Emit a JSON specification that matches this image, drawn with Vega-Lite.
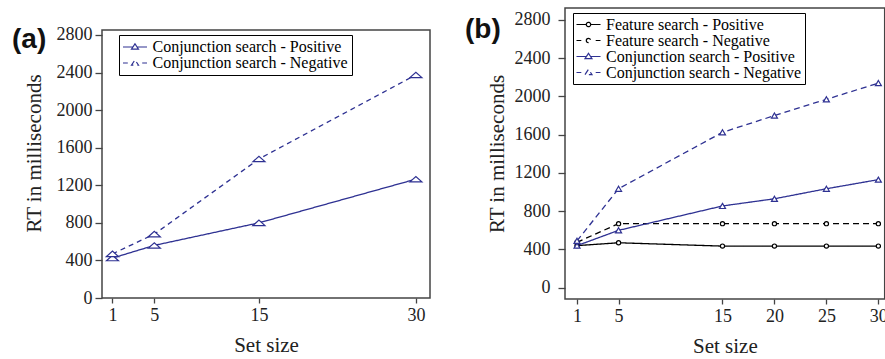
{
  "$schema": "https://vega.github.io/schema/vega-lite/v6.json",
  "padding": {"left": 12, "top": 7, "right": 0, "bottom": 0},
  "spacing": 34,
  "resolve": {"scale": {"color": "independent", "strokeDash": "independent", "shape": "independent"}, "legend": {"color": "independent"}},
  "config": {
    "view": {"stroke": null},
    "font": "Liberation Serif",
    "numberFormat": "d",
    "axis": {"grid": false, "domain": false, "tickColor": "#444", "tickWidth": 1.3, "labelFont": "Liberation Serif", "labelFontSize": 18, "labelColor": "#222", "labelFlush": false, "titleFont": "Liberation Serif", "titleFontSize": 21, "titleFontWeight": "normal", "titleColor": "#222"},
    "title": {"font": "Liberation Sans", "fontSize": 28, "fontWeight": "bold", "color": "#111", "anchor": "start", "frame": "group", "offset": 0, "baseline": "alphabetic"}
  },
  "datasets": {
    "a": [
      {"series": "Conjunction search - Positive", "size": 1, "rt": 425},
      {"series": "Conjunction search - Positive", "size": 5, "rt": 560},
      {"series": "Conjunction search - Positive", "size": 15, "rt": 800},
      {"series": "Conjunction search - Positive", "size": 30, "rt": 1265},
      {"series": "Conjunction search - Negative", "size": 1, "rt": 470},
      {"series": "Conjunction search - Negative", "size": 5, "rt": 680},
      {"series": "Conjunction search - Negative", "size": 15, "rt": 1480},
      {"series": "Conjunction search - Negative", "size": 30, "rt": 2375}
    ],
    "b": [
      {"series": "Feature search - Positive", "size": 1, "rt": 440},
      {"series": "Feature search - Positive", "size": 5, "rt": 470},
      {"series": "Feature search - Positive", "size": 15, "rt": 435},
      {"series": "Feature search - Positive", "size": 20, "rt": 435},
      {"series": "Feature search - Positive", "size": 25, "rt": 435},
      {"series": "Feature search - Positive", "size": 30, "rt": 435},
      {"series": "Feature search - Negative", "size": 1, "rt": 475},
      {"series": "Feature search - Negative", "size": 5, "rt": 670},
      {"series": "Feature search - Negative", "size": 15, "rt": 670},
      {"series": "Feature search - Negative", "size": 20, "rt": 670},
      {"series": "Feature search - Negative", "size": 25, "rt": 670},
      {"series": "Feature search - Negative", "size": 30, "rt": 670},
      {"series": "Conjunction search - Positive", "size": 1, "rt": 440},
      {"series": "Conjunction search - Positive", "size": 5, "rt": 600},
      {"series": "Conjunction search - Positive", "size": 15, "rt": 855},
      {"series": "Conjunction search - Positive", "size": 20, "rt": 930},
      {"series": "Conjunction search - Positive", "size": 25, "rt": 1035},
      {"series": "Conjunction search - Positive", "size": 30, "rt": 1130},
      {"series": "Conjunction search - Negative", "size": 1, "rt": 490},
      {"series": "Conjunction search - Negative", "size": 5, "rt": 1035},
      {"series": "Conjunction search - Negative", "size": 15, "rt": 1625},
      {"series": "Conjunction search - Negative", "size": 20, "rt": 1800},
      {"series": "Conjunction search - Negative", "size": 25, "rt": 1970},
      {"series": "Conjunction search - Negative", "size": 30, "rt": 2140}
    ]
  },
  "hconcat": [
    {
      "title": {"text": "(a)", "dx": -90, "dy": 50},
      "width": 328,
      "height": 290,
      "data": {"name": "a"},
      "layer": [
        {
          "mark": {"type": "line", "strokeWidth": 1.3},
          "encoding": {
            "x": {"field": "size", "type": "quantitative", "scale": {"domain": [0, 31.35], "nice": false, "zero": false}, "axis": {"values": [1, 5, 15, 30], "title": "Set size", "tickSize": 5, "labelPadding": 3, "titlePadding": 10}},
            "y": {"field": "rt", "type": "quantitative", "scale": {"domain": [0, 3087], "nice": false, "zero": false}, "axis": {"values": [0, 400, 800, 1200, 1600, 2000, 2400, 2800], "title": "RT in milliseconds", "tickSize": 7, "labelPadding": 3, "titlePadding": 12}},
            "color": {"field": "series", "type": "nominal", "sort": null,
              "scale": {"domain": ["Conjunction search - Positive", "Conjunction search - Negative"], "range": ["#2e3192", "#2e3192"]},
              "legend": {
                "orient": "none", "legendX": 17, "legendY": 27, "title": null,
                "labelFont": "Liberation Serif", "labelFontSize": 16, "labelColor": "#000", "labelLimit": 0,
                "symbolSize": 16, "symbolOffset": 4, "labelOffset": 9.5, "rowPadding": -3,
                "padding": 4, "strokeColor": "#000", "fillColor": "white",
                "encode": {"symbols": {"update": {
                  "shape": {"signal": "datum.value === 'Conjunction search - Positive' ? 'M-6,0H-1.04M1.04,0H6M-1.75,1.1L0,-1.6L1.75,1.1Z' : 'M-6,0H-3.6M3.6,0H6M-1.75,1.1L0,-1.6L1.75,1.1Z'"},
                  "fill": {"value": "white"},
                  "strokeDash": {"value": [1, 0]},
                  "strokeWidth": {"value": 1.2},
                  "size": {"value": 16}
                }}}
              }},
            "strokeDash": {"field": "series", "type": "nominal", "scale": {"domain": ["Conjunction search - Positive", "Conjunction search - Negative"], "range": [[1, 0], [5, 4]]}, "legend": null}
          }
        },
        {
          "mark": {"type": "point", "filled": false, "fill": "white", "strokeWidth": 1.2, "size": 144, "shape": "M-1,0.45L0,-0.45L1,0.45Z", "opacity": 1},
          "encoding": {
            "x": {"field": "size", "type": "quantitative", "axis": {"values": [1, 5, 15, 30], "title": "Set size", "tickSize": 5, "labelPadding": 3, "titlePadding": 10}},
            "y": {"field": "rt", "type": "quantitative", "axis": {"values": [0, 400, 800, 1200, 1600, 2000, 2400, 2800], "title": "RT in milliseconds", "tickSize": 7, "labelPadding": 3, "titlePadding": 12}},
            "color": {"field": "series", "type": "nominal", "legend": null}
          }
        },
        {
          "data": {"values": [{}]},
          "mark": {"type": "rect", "filled": false, "stroke": "#444", "strokeWidth": 1.5},
          "encoding": {
            "x": {"datum": 0, "type": "quantitative", "axis": {"values": [1, 5, 15, 30], "title": "Set size", "tickSize": 5, "labelPadding": 3, "titlePadding": 10}},
            "x2": {"datum": 31.35},
            "y": {"datum": 0, "type": "quantitative", "axis": {"values": [0, 400, 800, 1200, 1600, 2000, 2400, 2800], "title": "RT in milliseconds", "tickSize": 7, "labelPadding": 3, "titlePadding": 12}},
            "y2": {"datum": 2853}
          }
        }
      ]
    },
    {
      "title": {"text": "(b)", "dx": -100, "dy": 41},
      "width": 319.7,
      "height": 291,
      "data": {"name": "b"},
      "layer": [
        {
          "mark": {"type": "line", "strokeWidth": 1.3},
          "encoding": {
            "x": {"field": "size", "type": "quantitative", "scale": {"domain": [-0.155, 30.61], "nice": false, "zero": false}, "axis": {"values": [1, 5, 15, 20, 25, 30], "title": "Set size", "tickSize": 5, "labelPadding": 3, "titlePadding": 10}},
            "y": {"field": "rt", "type": "quantitative", "scale": {"domain": [-118, 2925], "nice": false, "zero": false}, "axis": {"values": [0, 400, 800, 1200, 1600, 2000, 2400, 2800], "title": "RT in milliseconds", "tickSize": 7, "labelPadding": 8, "titlePadding": 7}},
            "color": {"field": "series", "type": "nominal", "sort": null,
              "scale": {"domain": ["Feature search - Positive", "Feature search - Negative", "Conjunction search - Positive", "Conjunction search - Negative"], "range": ["#000000", "#000000", "#2e3192", "#2e3192"]},
              "legend": {
                "orient": "none", "legendX": 8, "legendY": 5, "title": null,
                "labelFont": "Liberation Serif", "labelFontSize": 16, "labelColor": "#000", "labelLimit": 0,
                "symbolSize": 16, "symbolOffset": 4, "labelOffset": 9.5, "rowPadding": -3,
                "padding": 3.5, "strokeColor": "#000", "fillColor": "white",
                "encode": {"symbols": {"update": {
                  "shape": {"signal": "datum.value === 'Feature search - Positive' ? 'M-6,0H-1.1M1.1,0H6M-1.1,0A1.1,1.1,0,1,1,1.1,0A1.1,1.1,0,1,1,-1.1,0Z' : datum.value === 'Feature search - Negative' ? 'M-6,0H-3.6M3.6,0H6M-1.1,0A1.1,1.1,0,1,1,1.1,0A1.1,1.1,0,1,1,-1.1,0Z' : datum.value === 'Conjunction search - Positive' ? 'M-6,0H-1.04M1.04,0H6M-1.75,1.1L0,-1.6L1.75,1.1Z' : 'M-6,0H-3.6M3.6,0H6M-1.75,1.1L0,-1.6L1.75,1.1Z'"},
                  "fill": {"value": "white"},
                  "strokeDash": {"value": [1, 0]},
                  "strokeWidth": {"value": 1.2},
                  "size": {"value": 16}
                }}}
              }},
            "strokeDash": {"field": "series", "type": "nominal", "scale": {"domain": ["Feature search - Positive", "Feature search - Negative", "Conjunction search - Positive", "Conjunction search - Negative"], "range": [[1, 0], [6, 4], [1, 0], [6, 4]]}, "legend": null}
          }
        },
        {
          "transform": [{"filter": "indexof(datum.series, 'Feature') === 0"}],
          "mark": {"type": "point", "filled": false, "fill": "white", "strokeWidth": 1.2, "size": 36, "shape": "M-0.7,0A0.7,0.7,0,1,1,0.7,0A0.7,0.7,0,1,1,-0.7,0Z", "opacity": 1},
          "encoding": {
            "x": {"field": "size", "type": "quantitative", "axis": {"values": [1, 5, 15, 20, 25, 30], "title": "Set size", "tickSize": 5, "labelPadding": 3, "titlePadding": 10}},
            "y": {"field": "rt", "type": "quantitative", "axis": {"values": [0, 400, 800, 1200, 1600, 2000, 2400, 2800], "title": "RT in milliseconds", "tickSize": 7, "labelPadding": 8, "titlePadding": 7}},
            "color": {"field": "series", "type": "nominal", "legend": null}
          }
        },
        {
          "transform": [{"filter": "indexof(datum.series, 'Conjunction') === 0"}],
          "mark": {"type": "point", "filled": false, "fill": "white", "strokeWidth": 1.2, "size": 36, "shape": "M0,-0.85L1,0.85L-1,0.85Z", "opacity": 1},
          "encoding": {
            "x": {"field": "size", "type": "quantitative", "axis": {"values": [1, 5, 15, 20, 25, 30], "title": "Set size", "tickSize": 5, "labelPadding": 3, "titlePadding": 10}},
            "y": {"field": "rt", "type": "quantitative", "axis": {"values": [0, 400, 800, 1200, 1600, 2000, 2400, 2800], "title": "RT in milliseconds", "tickSize": 7, "labelPadding": 8, "titlePadding": 7}},
            "color": {"field": "series", "type": "nominal", "legend": null}
          }
        },
        {
          "data": {"values": [{}]},
          "mark": {"type": "rect", "filled": false, "stroke": "#444", "strokeWidth": 1.5},
          "encoding": {
            "x": {"datum": -0.155, "type": "quantitative", "axis": {"values": [1, 5, 15, 20, 25, 30], "title": "Set size", "tickSize": 5, "labelPadding": 3, "titlePadding": 10}},
            "x2": {"datum": 30.61},
            "y": {"datum": -118, "type": "quantitative", "axis": {"values": [0, 400, 800, 1200, 1600, 2000, 2400, 2800], "title": "RT in milliseconds", "tickSize": 7, "labelPadding": 8, "titlePadding": 7}},
            "y2": {"datum": 2925}
          }
        }
      ]
    }
  ]
}
